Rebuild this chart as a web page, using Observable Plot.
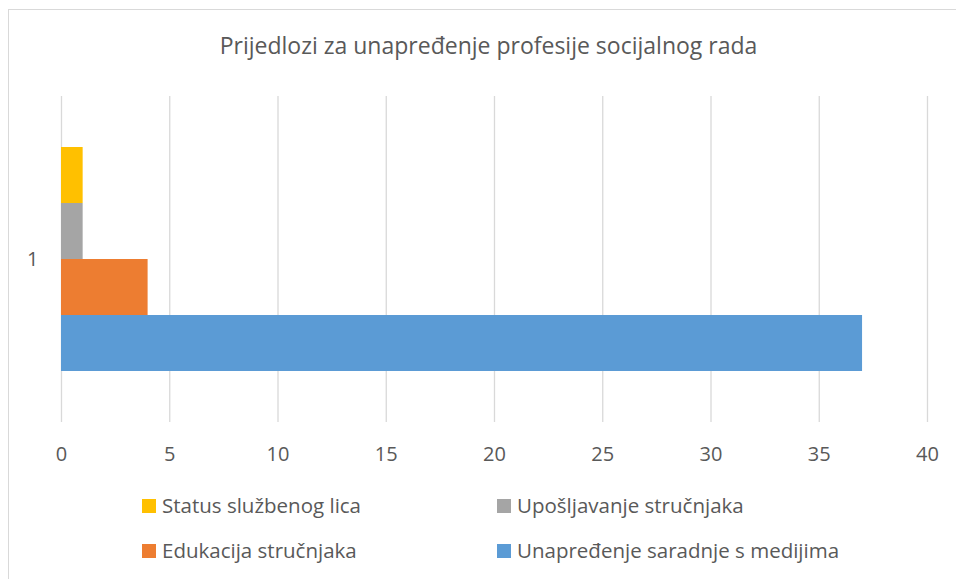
<!DOCTYPE html>
<html>
<head>
<meta charset="utf-8">
<script src="https://cdn.jsdelivr.net/npm/d3@7"></script>
<script src="https://cdn.jsdelivr.net/npm/@observablehq/plot@0.6"></script>
<style>
  html, body { margin: 0; padding: 0; background: #fff; }
  #chart { position: relative; width: 956px; height: 579px; overflow: hidden; background: #fff; font-family: "Open Sans", sans-serif; color: #595959; }
  #border { position: absolute; left: 8px; top: 9px; width: 1000px; height: 700px; border: 1.5px solid #d9d9d9; box-sizing: border-box; }
  #title { position: absolute; left: 0; top: 34px; width: 977px; text-align: center; font-size: 23px; line-height: 1; white-space: nowrap; }
  #plot { position: absolute; left: 0; top: 70px; }
  .leg { position: absolute; font-size: 20.5px; line-height: 1; white-space: nowrap; }
  .sw { position: absolute; width: 14px; height: 14px; }
</style>
</head>
<body>
<div id="chart">
  <div id="border"></div>
  <div id="title"></div>
  <div id="plot"></div>
  <div id="legend"></div>
</div>
<script>
const title = "Prijedlozi za unapređenje profesije socijalnog rada";
const category = ["1"];
const series = ["Status službenog lica", "Upošljavanje stručnjaka", "Edukacija stručnjaka", "Unapređenje saradnje s medijima"];
const values = [1, 1, 4, 37];
const colors = ["#FFC000", "#A5A5A5", "#ED7D31", "#5B9BD5"];
const xTicks = [0, 5, 10, 15, 20, 25, 30, 35, 40];

document.getElementById("title").textContent = title;

const data = series.map((s, i) => ({category: category[0], series: s, value: values[i]}));

const chart = Plot.plot({
  width: 956,
  height: 400,
  marginTop: 26,
  marginBottom: 48,
  marginLeft: 61,
  marginRight: 29,
  style: {fontFamily: "Open Sans", fontSize: "20px", color: "#595959", background: "transparent", overflow: "visible"},
  x: {domain: [0, 40], axis: null, label: null},
  fy: {domain: category, padding: 0, axis: null, label: null},
  y: {domain: series, padding: 0, insetTop: 51, insetBottom: 51, axis: null},
  color: {domain: series, range: colors},
  marks: [
    Plot.gridX(xTicks, {stroke: "#d9d9d9", strokeOpacity: 1, strokeWidth: 1.3}),
    Plot.axisX(xTicks, {tickSize: 0, tickPadding: 24, fill: "#595959", fontSize: 20, label: null}),
    Plot.axisFy({anchor: "left", tickSize: 0, tickPadding: 23, fontSize: 20, fill: "#595959", label: null}),
    Plot.barX(data, {x: "value", y: "series", fy: "category", fill: "series"})
  ]
});
document.getElementById("plot").appendChild(chart);

// Legend (2 columns x 2 rows)
const legend = document.getElementById("legend");
const colX = [142, 497];
const rowY = [499, 544];
series.forEach((s, i) => {
  const c = i % 2, r = Math.floor(i / 2);
  const sw = document.createElement("div");
  sw.className = "sw";
  sw.style.left = colX[c] + "px";
  sw.style.top = rowY[r] + "px";
  sw.style.background = colors[i];
  legend.appendChild(sw);
  const t = document.createElement("div");
  t.className = "leg";
  t.style.left = (colX[c] + 20) + "px";
  t.style.top = (rowY[r] - 4) + "px";
  t.textContent = s;
  legend.appendChild(t);
});
</script>
</body>
</html>
